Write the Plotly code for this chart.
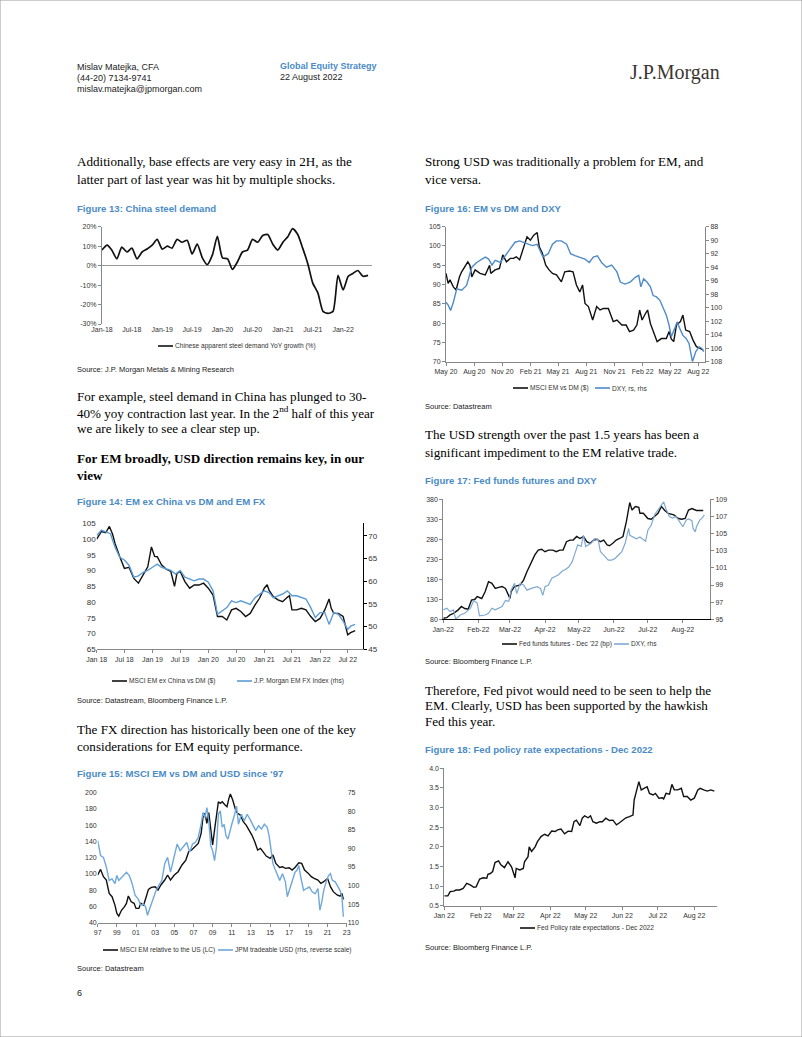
import plotly.graph_objects as go
import pandas as pd

W, H = 802, 1037
SANS = "Liberation Sans, Arial"
SERIF = "Liberation Serif, Times New Roman, serif"
TITLE_BLUE = "#4a8bc6"

# ---------------- data ----------------
# Figure 13: Chinese apparent steel demand YoY growth (%), monthly Jan-18 .. Jun-22
steel_dates = pd.date_range("2018-01-01", periods=54, freq="MS")
steel_yoy = [8, 10.5, 8, 3.5, 9.5, 7, 9, 3.5, 7, 8.5, 10.5, 13.5,
             8.5, 10, 9, 13.5, 12, 13, 6, 11, 4, 0.5, 5.5, 15,
             4, 3.5, -2, 2, 7, 8, 13.5, 12, 15.5, 16, 11, 8,
             12, 15, 19, 16, 9, 1, -9, -14, -23.5, -24.5, -23.5, -5,
             -12.5, -5.5, -4, -2.5, -5.5, -5]
steel_ticks = ["2018-01-01", "2018-07-01", "2019-01-01", "2019-07-01", "2020-01-01",
               "2020-07-01", "2021-01-01", "2021-07-01", "2022-01-01"]
steel_ticktext = ["Jan-18", "Jul-18", "Jan-19", "Jul-19", "Jan-20", "Jul-20", "Jan-21", "Jul-21", "Jan-22"]

# Figure 14: MSCI EM ex China vs DM ($) and J.P. Morgan EM FX Index (rhs)
emxc_dates = ["2018-01-01", "2018-02-01", "2018-03-01", "2018-03-25", "2018-04-15", "2018-05-01",
              "2018-06-01", "2018-07-01", "2018-08-01", "2018-09-01", "2018-10-01", "2018-11-01",
              "2018-12-01", "2018-12-25", "2019-01-15", "2019-02-01", "2019-03-01", "2019-04-01",
              "2019-05-01", "2019-05-25", "2019-06-10", "2019-07-01", "2019-08-01", "2019-09-01",
              "2019-10-01", "2019-11-01", "2019-12-01", "2020-01-01", "2020-02-01", "2020-03-01",
              "2020-04-01", "2020-05-01", "2020-06-01", "2020-07-01", "2020-08-01", "2020-09-01",
              "2020-10-01", "2020-11-01", "2020-12-01", "2021-01-01", "2021-01-20", "2021-02-01",
              "2021-03-01", "2021-04-01", "2021-05-01", "2021-06-01", "2021-06-15", "2021-07-01",
              "2021-08-01", "2021-09-01", "2021-10-01", "2021-11-01", "2021-12-01", "2022-01-01",
              "2022-02-01", "2022-03-01", "2022-03-15", "2022-04-01", "2022-05-01", "2022-06-01",
              "2022-06-20", "2022-07-01", "2022-07-20", "2022-08-19"]
emxc_vs_dm = [100, 102.4, 102, 104, 101.5, 98.6,
              94.4, 90.7, 91, 87.5, 86, 88.6,
              91.2, 97.5, 94.5, 94.4, 91.8, 90.4,
              89.7, 85, 89.1, 89.7, 86.5, 84.4,
              85.4, 85.4, 86, 84.4, 82.2, 75.4,
              75.4, 74.3, 77.5, 78, 77, 75.4,
              76.4, 79, 81.2, 84.4, 85.5, 83.8,
              81.7, 80.7, 80.1, 81.5, 82, 77.5,
              77.5, 78, 77.5, 75.4, 73.8, 74.8,
              77.5, 81, 78, 76.4, 76.4, 75.4,
              72, 69.6, 70.3, 70.9]
emfx_dates = [d.strftime("%Y-%m-%d") for d in pd.date_range("2018-01-01", periods=54, freq="MS")] + \
             ["2022-07-01", "2022-07-20", "2022-08-19"]
emfx = [70.1, 71.3, 70.9, 70.5, 67.5, 65.3, 64.7, 63.5, 60.9, 61.2, 62, 62.4,
        63.1, 63.8, 63.1, 62.7, 62.4, 61.6, 62.4, 60.9, 60.5, 60.1, 60.5, 60.5,
        59.8, 57.9, 52.7, 53.5, 54.2, 55.7, 55.3, 55.7, 55.3, 54.9, 56.4, 57.2,
        57.9, 57.5, 56.4, 56.8, 57.2, 57.9, 56.8, 56.8, 56.4, 56.1, 54.2, 52,
        53.1, 53.1, 50.5, 53.1, 52.7, 51.2,
        49.4, 50.1, 50.5]
f14_ticks = ["2018-01-01", "2018-07-01", "2019-01-01", "2019-07-01", "2020-01-01",
             "2020-07-01", "2021-01-01", "2021-07-01", "2022-01-01", "2022-07-01"]
f14_ticktext = ["Jan 18", "Jul 18", "Jan 19", "Jul 19", "Jan 20", "Jul 20", "Jan 21", "Jul 21", "Jan 22", "Jul 22"]

# Figure 15: MSCI EM relative to the US (LC) and JPM tradeable USD (rhs, reverse scale)
msci_rel_years = [1997.0, 1997.3, 1997.6, 1997.9, 1998.2, 1998.5, 1998.8, 1999.0, 1999.2, 1999.5,
                  1999.8, 2000.0, 2000.2, 2000.5, 2000.8, 2001.0, 2001.3, 2001.5, 2001.8, 2002.0,
                  2002.3, 2002.6, 2003.0, 2003.3, 2003.6, 2004.0, 2004.3, 2004.6, 2005.0, 2005.4,
                  2005.8, 2006.2, 2006.5, 2006.8, 2007.2, 2007.5, 2007.8, 2008.0, 2008.2, 2008.4,
                  2008.6, 2008.8, 2009.0, 2009.2, 2009.4, 2009.6, 2009.8, 2010.0, 2010.3, 2010.5,
                  2010.7, 2010.85, 2011.1, 2011.4, 2011.6, 2011.9, 2012.2, 2012.5, 2012.8, 2013.1,
                  2013.4, 2013.7, 2014.0, 2014.3, 2014.6, 2015.0, 2015.3, 2015.6, 2016.0, 2016.3,
                  2016.6, 2017.0, 2017.3, 2017.6, 2018.0, 2018.3, 2018.6, 2019.0, 2019.3, 2019.6,
                  2020.0, 2020.3, 2020.6, 2021.0, 2021.3, 2021.6, 2022.0, 2022.3, 2022.5, 2022.65]
msci_rel = [98.7, 105.6, 96.6, 92.5, 76, 72, 61.7, 51.5, 48.2, 55.6,
            59.7, 63.8, 72.8, 65.8, 63.8, 57.6, 57.6, 63.8, 61.7, 70,
            81, 83.5, 84.3, 80.2, 86.4, 92.5, 98.7, 92.5, 98.7, 102.8,
            111, 117.1, 127.4, 129.4, 133.5, 137.6, 150, 170.5, 174.6, 162.3,
            175.4, 154, 135.6, 154, 170.5, 188.9, 186.9, 188.9, 184.8, 182.8,
            193, 198.4, 191, 178.7, 174.6, 172.5, 164.3, 160.2, 154, 147.9,
            139.7, 129.4, 131.5, 127.4, 122, 119.2, 123.3, 113, 108, 108.9,
            106.9, 107.7, 104.8, 108, 113.8, 113, 104.8, 100.7, 96.6, 94.6,
            92.5, 88.4, 90.5, 94.6, 84.3, 78.2, 74.1, 72.8, 76, 68.7]
usd_years = [1997.0, 1997.3, 1997.6, 1997.9, 1998.2, 1998.5, 1998.8, 1999.0, 1999.2, 1999.5,
             1999.8, 2000.0, 2000.3, 2000.6, 2000.9, 2001.2, 2001.5, 2001.8, 2002.0, 2002.2,
             2002.5, 2002.8, 2003.1, 2003.4, 2003.7, 2004.0, 2004.3, 2004.6, 2005.0, 2005.3,
             2005.6, 2006.0, 2006.3, 2006.6, 2006.9, 2007.2, 2007.5, 2007.8, 2008.0, 2008.2,
             2008.4, 2008.6, 2008.8, 2009.0, 2009.2, 2009.4, 2009.6, 2009.8, 2010.0, 2010.2,
             2010.4, 2010.6, 2010.8, 2011.0, 2011.3, 2011.5, 2011.7, 2012.0, 2012.3, 2012.6,
             2012.9, 2013.2, 2013.5, 2013.8, 2014.1, 2014.4, 2014.7, 2014.9, 2015.1, 2015.3,
             2015.5, 2015.8, 2016.0, 2016.3, 2016.6, 2016.8, 2017.0, 2017.3, 2017.6, 2017.8,
             2018.0, 2018.2, 2018.5, 2018.8, 2019.1, 2019.4, 2019.7, 2020.0, 2020.2, 2020.4,
             2020.6, 2020.9, 2021.1, 2021.3, 2021.5, 2021.8, 2022.0, 2022.3, 2022.5, 2022.65]
usd_trade = [87.9, 91.9, 92.4, 95, 98.6, 98.2, 99.5, 97.3, 98.6, 97.7,
             96.8, 96.4, 97.3, 99.5, 102.6, 103.5, 105.3, 105, 105.7, 108,
             105.7, 103.5, 101.3, 99.9, 98.6, 94.1, 92.4, 96.4, 92.4, 88.8,
             90.6, 89.2, 88.4, 91, 88.8, 88.4, 87, 83.5, 80.3, 81.7,
             79, 82.6, 89.2, 90.6, 93.3, 89.7, 80.8, 79.9, 84.3, 83.5,
             86.6, 87.5, 85.2, 83.5, 80.8, 78.6, 83.5, 80.8, 82.6, 80.8,
             82.1, 83.5, 85.2, 83.9, 84.8, 83.5, 84.3, 86.6, 91, 94.1,
             95.5, 97.3, 98.6, 96.8, 99, 103, 101.3, 99, 96.4, 95.9,
             94.6, 97.7, 101.3, 100.8, 100.4, 101.7, 102.2, 100.8, 106.6, 104.4,
             101.3, 98.6, 97.3, 96.8, 98.6, 99, 99.9, 101.3, 103, 108.4]
f15_ticks = list(range(1997, 2024, 2))
f15_ticktext = ["97", "99", "01", "03", "05", "07", "09", "11", "13", "15", "17", "19", "21", "23"]

# Figure 16: MSCI EM vs DM ($) and DXY (rs, rhs)
emdm_dates = ["2020-05-01", "2020-05-08", "2020-05-14", "2020-05-25", "2020-06-03", "2020-06-14",
              "2020-06-21", "2020-07-02", "2020-07-11", "2020-07-18", "2020-07-24", "2020-08-04",
              "2020-08-20", "2020-09-06", "2020-09-20", "2020-09-24", "2020-10-08", "2020-10-22",
              "2020-11-02", "2020-11-14", "2020-11-27", "2020-12-07", "2020-12-16", "2020-12-27",
              "2021-01-09", "2021-01-20", "2021-01-31", "2021-02-11", "2021-02-22", "2021-03-01",
              "2021-03-11", "2021-03-22", "2021-04-02", "2021-04-13", "2021-04-26", "2021-05-12",
              "2021-05-23", "2021-06-07", "2021-06-19", "2021-06-30", "2021-07-11", "2021-07-20",
              "2021-07-28", "2021-08-08", "2021-08-22", "2021-09-04", "2021-09-15", "2021-09-26",
              "2021-10-12", "2021-10-28", "2021-11-09", "2021-11-25", "2021-12-09", "2021-12-20",
              "2022-01-02", "2022-01-13", "2022-01-22", "2022-01-30", "2022-02-10", "2022-02-17",
              "2022-02-26", "2022-03-07", "2022-03-20", "2022-04-03", "2022-04-19", "2022-04-28",
              "2022-05-05", "2022-05-13", "2022-05-22", "2022-06-04", "2022-06-12", "2022-06-21",
              "2022-07-04", "2022-07-15", "2022-07-26", "2022-08-06", "2022-08-17"]
emdm = [92.9, 90.3, 91.2, 89.4, 88.6, 92,
        93.3, 94.6, 95.9, 95, 92, 93.8,
        92.9, 92.5, 95, 92.9, 93.8, 94.2,
        97.7, 95.9, 96.8, 96.8, 97.2, 96.4,
        99.8, 102.4, 101.5, 102.8, 103.5, 99.8,
        98.1, 95, 93.8, 92.9, 92.5, 90.7,
        93.3, 93.5, 93.3, 89.9, 88.1, 89.9,
        85.1, 84.3, 80.8, 84.3, 83.4, 83.8,
        83.8, 80.4, 80.8, 79.5, 79.5, 77.8,
        78.2, 79.5, 83.4, 80.8, 82.5, 83.4,
        79.9, 77.8, 75.2, 76, 76, 77.8,
        75.9, 75.2, 79.5, 80.4, 82.1, 78.2,
        77.8, 75.6, 73.9, 73.5, 73]
dxy16_dates = ["2020-05-01", "2020-05-08", "2020-05-16", "2020-05-25", "2020-06-05", "2020-06-21",
               "2020-07-07", "2020-07-24", "2020-08-09", "2020-08-26", "2020-09-06", "2020-09-17",
               "2020-09-28", "2020-10-08", "2020-10-25", "2020-11-10", "2020-11-27", "2020-12-12",
               "2020-12-27", "2021-01-09", "2021-01-23", "2021-02-06", "2021-02-22", "2021-03-03",
               "2021-03-13", "2021-03-30", "2021-04-13", "2021-04-26", "2021-05-12", "2021-05-29",
               "2021-06-11", "2021-06-25", "2021-07-11", "2021-07-28", "2021-08-11", "2021-08-24",
               "2021-09-06", "2021-09-20", "2021-10-06", "2021-10-23", "2021-11-09", "2021-11-20",
               "2021-12-05", "2021-12-22", "2022-01-08", "2022-01-19", "2022-01-26", "2022-02-04",
               "2022-02-15", "2022-02-26", "2022-03-07", "2022-03-18", "2022-03-29", "2022-04-08",
               "2022-04-19", "2022-04-28", "2022-05-05", "2022-05-16", "2022-05-24", "2022-06-02",
               "2022-06-12", "2022-06-23", "2022-07-02", "2022-07-13", "2022-07-24", "2022-08-04",
               "2022-08-12", "2022-08-19"]
dxy16 = [99.2, 99.6, 100.4, 99.2, 97.2, 97.4,
         96.7, 94, 93.3, 92.8, 92.5, 92.8,
         93.7, 93, 93.3, 92.3, 91.3, 90.3,
         90.1, 90.3, 90.6, 90.8, 90.6, 91.5,
         92.5, 92, 90.6, 90.1, 90.1, 90.6,
         92, 92.3, 92.5, 92.8, 93.3, 92.5,
         92.3, 93.3, 94, 93.7, 94.7, 96.2,
         96.5, 96.2, 95.5, 95.2, 96.9, 95.7,
         96.2, 96.9, 98.2, 98.4, 98.9, 99.9,
         101.1, 102.6, 104.3, 103.1, 102.1, 103.1,
         104.1, 104.6, 105.3, 108, 106.5, 105.8,
         106, 106.5]
f16_ticks = ["2020-05-01", "2020-08-01", "2020-11-01", "2021-02-01", "2021-05-01",
             "2021-08-01", "2021-11-01", "2022-02-01", "2022-05-01", "2022-08-01"]
f16_ticktext = ["May 20", "Aug 20", "Nov 20", "Feb 21", "May 21", "Aug 21", "Nov 21", "Feb 22", "May 22", "Aug 22"]

# Figure 17: Fed funds futures - Dec '22 (bp) and DXY (rhs)
ff_dates = ["2022-01-01", "2022-01-04", "2022-01-07", "2022-01-10", "2022-01-14", "2022-01-17",
            "2022-01-20", "2022-01-23", "2022-01-26", "2022-01-29", "2022-01-31", "2022-02-04",
            "2022-02-07", "2022-02-10", "2022-02-13", "2022-02-16", "2022-02-19", "2022-02-22",
            "2022-02-25", "2022-02-27", "2022-03-01", "2022-03-02", "2022-03-05", "2022-03-10",
            "2022-03-13", "2022-03-16", "2022-03-20", "2022-03-23", "2022-03-26", "2022-03-29",
            "2022-04-01", "2022-04-04", "2022-04-08", "2022-04-11", "2022-04-14", "2022-04-17",
            "2022-04-20", "2022-04-23", "2022-04-26", "2022-04-29", "2022-05-02", "2022-05-05",
            "2022-05-08", "2022-05-11", "2022-05-14", "2022-05-17", "2022-05-20", "2022-05-23",
            "2022-05-26", "2022-05-28", "2022-05-31", "2022-06-03", "2022-06-06", "2022-06-09",
            "2022-06-12", "2022-06-15", "2022-06-17", "2022-06-20", "2022-06-23", "2022-06-24",
            "2022-06-27", "2022-07-01", "2022-07-04", "2022-07-07", "2022-07-10", "2022-07-13",
            "2022-07-16", "2022-07-19", "2022-07-24", "2022-07-28", "2022-07-31", "2022-08-03",
            "2022-08-06", "2022-08-09", "2022-08-13", "2022-08-16", "2022-08-19"]
ff_dec22 = [82.5, 84, 91, 95, 103, 112,
            107, 105, 128, 130, 137, 132,
            149, 174, 170, 157, 160, 162,
            157, 145, 132, 149, 162, 166,
            178, 199, 224, 241, 253, 255,
            249, 253, 253, 249, 253, 253,
            274, 278, 278, 287, 282, 287,
            274, 270, 278, 280, 274, 278,
            266, 264, 270, 278, 282, 287,
            324, 372, 353, 362, 360, 345,
            345, 332, 330, 338, 345, 362,
            352, 345, 341, 332, 330, 332,
            353, 357, 352, 352, 352]
dxy17_dates = ["2022-01-01", "2022-01-04", "2022-01-07", "2022-01-10", "2022-01-12", "2022-01-16",
               "2022-01-20", "2022-01-25", "2022-01-28", "2022-01-31", "2022-02-02", "2022-02-07",
               "2022-02-10", "2022-02-13", "2022-02-16", "2022-02-19", "2022-02-22", "2022-02-25",
               "2022-02-28", "2022-03-02", "2022-03-05", "2022-03-07", "2022-03-10", "2022-03-13",
               "2022-03-16", "2022-03-20", "2022-03-25", "2022-03-28", "2022-03-30", "2022-04-01",
               "2022-04-04", "2022-04-07", "2022-04-10", "2022-04-13", "2022-04-16", "2022-04-19",
               "2022-04-22", "2022-04-25", "2022-04-28", "2022-04-30", "2022-05-03", "2022-05-05",
               "2022-05-07", "2022-05-09", "2022-05-12", "2022-05-15", "2022-05-18", "2022-05-20",
               "2022-05-23", "2022-05-27", "2022-05-30", "2022-06-02", "2022-06-05", "2022-06-08",
               "2022-06-11", "2022-06-14", "2022-06-15", "2022-06-18", "2022-06-21", "2022-06-24",
               "2022-06-27", "2022-06-29", "2022-07-01", "2022-07-04", "2022-07-07", "2022-07-10",
               "2022-07-13", "2022-07-15", "2022-07-17", "2022-07-20", "2022-07-23", "2022-07-26",
               "2022-07-29", "2022-08-01", "2022-08-04", "2022-08-06", "2022-08-09", "2022-08-10",
               "2022-08-12", "2022-08-13", "2022-08-16", "2022-08-18", "2022-08-20"]
dxy17 = [96.1, 96.3, 95.9, 96.1, 95, 95.5,
         95.7, 96.3, 97.2, 96.9, 95.4, 95.5,
         95.7, 96.3, 96.1, 96.3, 96.5, 97.2,
         97.1, 98.4, 99.2, 98, 99.2, 99,
         98.4, 98.6, 98.8, 98.6, 97.8, 98.8,
         99, 99.8, 100, 100.2, 100.6, 100.8,
         101.1, 101.7, 102.9, 103.7, 103.5, 104.8,
         103.5, 103.7, 103.9, 104.4, 104.3, 102.9,
         102.5, 101.9, 101.9, 102.1, 102.5, 102.9,
         103.9, 105.6, 104.8, 104.6, 104.4, 104.6,
         104.3, 104.1, 105.4, 106, 107.2, 107.8,
         108.3, 108.7, 107.9, 107, 106.8, 107,
         106.4, 105.8, 106.6, 106.7, 106.5, 105.6,
         105.2, 105.8, 106.6, 106.8, 107.2]
f17_ticks = ["2022-01-01", "2022-02-01", "2022-03-01", "2022-04-01", "2022-05-01",
             "2022-06-01", "2022-07-01", "2022-08-01"]
f17_ticktext = ["Jan-22", "Feb-22", "Mar-22", "Apr-22", "May-22", "Jun-22", "Jul-22", "Aug-22"]

# Figure 18: Fed policy rate expectations - Dec 2022
fedexp_dates = ["2022-01-01", "2022-01-04", "2022-01-06", "2022-01-09", "2022-01-11", "2022-01-14",
                "2022-01-17", "2022-01-20", "2022-01-23", "2022-01-26", "2022-01-28", "2022-01-31",
                "2022-02-03", "2022-02-06", "2022-02-07", "2022-02-09", "2022-02-11", "2022-02-13",
                "2022-02-16", "2022-02-18", "2022-02-21", "2022-02-24", "2022-02-27", "2022-02-28",
                "2022-03-02", "2022-03-03", "2022-03-06", "2022-03-09", "2022-03-10", "2022-03-13",
                "2022-03-14", "2022-03-16", "2022-03-19", "2022-03-21", "2022-03-24", "2022-03-27",
                "2022-03-30", "2022-04-02", "2022-04-05", "2022-04-07", "2022-04-10", "2022-04-13",
                "2022-04-16", "2022-04-19", "2022-04-21", "2022-04-23", "2022-04-26", "2022-04-28",
                "2022-04-30", "2022-05-03", "2022-05-05", "2022-05-07", "2022-05-10", "2022-05-13",
                "2022-05-15", "2022-05-18", "2022-05-21", "2022-05-24", "2022-05-27", "2022-05-29",
                "2022-06-01", "2022-06-04", "2022-06-07", "2022-06-10", "2022-06-11", "2022-06-13",
                "2022-06-15", "2022-06-17", "2022-06-20", "2022-06-22", "2022-06-24", "2022-06-27",
                "2022-06-29", "2022-07-02", "2022-07-05", "2022-07-06", "2022-07-08", "2022-07-11",
                "2022-07-13", "2022-07-15", "2022-07-18", "2022-07-21", "2022-07-23", "2022-07-26",
                "2022-07-29", "2022-08-01", "2022-08-04", "2022-08-06", "2022-08-09", "2022-08-12",
                "2022-08-15", "2022-08-18"]
fedexp = [0.75, 0.75, 0.86, 0.87, 0.9, 0.9,
          0.94, 1.07, 1.03, 0.97, 0.98, 1.18,
          1.21, 1.2, 1.3, 1.32, 1.37, 1.6,
          1.64, 1.54, 1.47, 1.62, 1.49, 1.41,
          1.21, 1.45, 1.41, 1.45, 1.62, 1.75,
          2.0, 1.88, 2.0, 2.13, 2.26, 2.32,
          2.28, 2.4, 2.39, 2.43, 2.45, 2.33,
          2.4, 2.39, 2.64, 2.68, 2.54, 2.73,
          2.79, 2.74, 2.79, 2.64, 2.6, 2.64,
          2.64, 2.73, 2.67, 2.68, 2.56, 2.6,
          2.68, 2.74, 2.77, 2.81, 3.19, 3.41,
          3.66, 3.45, 3.49, 3.53, 3.36, 3.32,
          3.36, 3.24, 3.25, 3.22, 3.36, 3.34,
          3.59, 3.45, 3.45, 3.49, 3.28, 3.28,
          3.19, 3.24, 3.45, 3.49, 3.45, 3.42,
          3.45, 3.42]
f18_ticks = f17_ticks
f18_ticktext = ["Jan 22", "Feb 22", "Mar 22", "Apr 22", "May 22", "Jun 22", "Jul 22", "Aug 22"]

# ---------------- helpers ----------------
def xd(x0, x1):
    return [x0 / W, x1 / W]

def yd(top, bottom):
    return [1 - bottom / H, 1 - top / H]

TICKFONT = dict(family=SANS, size=7, color="#333333")

def axis(**kw):
    base = dict(showgrid=False, zeroline=False, tickfont=TICKFONT, ticks="outside",
                ticklen=3, tickwidth=1, tickcolor="#888888", showline=True,
                linecolor="#888888", linewidth=1, fixedrange=True, tickangle=0,
                automargin=False)
    base.update(kw)
    return base

annotations = []
shapes = []

def text(x, y, s, size=13.1, family=SERIF, color="#000000", anchor="left"):
    annotations.append(dict(x=x / W, y=1 - y / H, xref="paper", yref="paper", text=s,
                            showarrow=False, xanchor=anchor, yanchor="middle", borderpad=0,
                            font=dict(family=family, size=size, color=color)))

def legend_item(x0, y, color, label, width=1.6, length=15):
    shapes.append(dict(type="line", xref="paper", yref="paper", x0=x0 / W, x1=(x0 + length) / W,
                       y0=1 - y / H, y1=1 - y / H, line=dict(color=color, width=width)))
    text(x0 + length + 1, y, label, size=6.6, family=SANS, color="#333333")

fig = go.Figure()

BLACK = "#111111"
# Fig 13
fig.add_trace(go.Scatter(x=steel_dates, y=steel_yoy, mode="lines",
                         line=dict(color=BLACK, width=1.7, shape="spline", smoothing=0.6),
                         xaxis="x", yaxis="y", showlegend=False))
# Fig 14
fig.add_trace(go.Scatter(x=emxc_dates, y=emxc_vs_dm, mode="lines", line=dict(color=BLACK, width=1.4),
                         xaxis="x2", yaxis="y2", showlegend=False))
fig.add_trace(go.Scatter(x=emfx_dates, y=emfx, mode="lines", line=dict(color="#5b9bd5", width=1.4),
                         xaxis="x2", yaxis="y3", showlegend=False))
# Fig 15
fig.add_trace(go.Scatter(x=msci_rel_years, y=msci_rel, mode="lines", line=dict(color=BLACK, width=1.4),
                         xaxis="x3", yaxis="y4", showlegend=False))
fig.add_trace(go.Scatter(x=usd_years, y=usd_trade, mode="lines", line=dict(color="#6fa8dc", width=1.4),
                         xaxis="x3", yaxis="y5", showlegend=False))
# Fig 16
fig.add_trace(go.Scatter(x=emdm_dates, y=emdm, mode="lines", line=dict(color=BLACK, width=1.4),
                         xaxis="x4", yaxis="y6", showlegend=False))
fig.add_trace(go.Scatter(x=dxy16_dates, y=dxy16, mode="lines", line=dict(color="#4f8bc9", width=1.4),
                         xaxis="x4", yaxis="y7", showlegend=False))
# Fig 17
fig.add_trace(go.Scatter(x=ff_dates, y=ff_dec22, mode="lines", line=dict(color=BLACK, width=1.4),
                         xaxis="x5", yaxis="y8", showlegend=False))
fig.add_trace(go.Scatter(x=dxy17_dates, y=dxy17, mode="lines", line=dict(color="#7fa9d1", width=1.2),
                         xaxis="x5", yaxis="y9", showlegend=False))
# Fig 18
fig.add_trace(go.Scatter(x=fedexp_dates, y=fedexp, mode="lines", line=dict(color=BLACK, width=1.4),
                         xaxis="x6", yaxis="y10", showlegend=False))

layout = dict(
    width=W, height=H, margin=dict(l=0, r=0, t=0, b=0, pad=0, autoexpand=False),
    paper_bgcolor="white", plot_bgcolor="rgba(0,0,0,0)", showlegend=False,
    # Fig 13
    xaxis=axis(domain=xd(102, 372), anchor="y", type="date", range=["2018-01-01", "2022-06-25"],
               tickvals=steel_ticks, ticktext=steel_ticktext, showline=False, ticks=""),
    yaxis=axis(domain=yd(226.7, 324), anchor="x", range=[-30, 20], tickvals=[-30, -20, -10, 0, 10, 20],
               ticktext=["-30%", "-20%", "-10%", "0%", "10%", "20%"], zeroline=True,
               zerolinecolor="#999999", zerolinewidth=1),
    # Fig 14
    xaxis2=axis(domain=xd(96.7, 362.7), anchor="y2", type="date", range=["2018-01-01", "2022-10-07"],
                tickvals=f14_ticks, ticktext=f14_ticktext),
    yaxis2=axis(domain=yd(523.3, 649.3), anchor="x2", range=[65, 105], dtick=5, showline=False, ticks="",
                tickfont=dict(family=SANS, size=8, color="#333333")),
    yaxis3=axis(overlaying="y2", side="right", anchor="x2", range=[45, 72.8],
                tickvals=[45, 50, 55, 60, 65, 70], linecolor="#000000", tickcolor="#000000",
                tickfont=dict(family=SANS, size=8, color="#333333")),
    # Fig 15
    xaxis3=axis(domain=xd(97.7, 346.7), anchor="y4", range=[1997, 2023], tickvals=f15_ticks,
                ticktext=f15_ticktext),
    yaxis4=axis(domain=yd(792.7, 922.7), anchor="x3", range=[40, 200], dtick=20, showline=False, ticks=""),
    yaxis5=axis(overlaying="y4", side="right", anchor="x3", range=[110, 75],
                tickvals=[75, 80, 85, 90, 95, 100, 105, 110], showline=False, ticks=""),
    # Fig 16
    xaxis4=axis(domain=xd(446, 705), anchor="y6", type="date", range=["2020-05-01", "2022-08-23"],
                tickvals=f16_ticks, ticktext=f16_ticktext),
    yaxis6=axis(domain=yd(226.7, 361.7), anchor="x4", range=[70, 105], dtick=5),
    yaxis7=axis(overlaying="y6", side="right", anchor="x4", range=[108, 88],
                tickvals=list(range(88, 109, 2))),
    # Fig 17
    xaxis5=axis(domain=xd(443.3, 710), anchor="y8", type="date", range=["2022-01-01", "2022-08-25"],
                tickvals=f17_ticks, ticktext=f17_ticktext, linecolor="#000000"),
    yaxis8=axis(domain=yd(499.3, 619.3), anchor="x5", range=[80, 380],
                tickvals=[80, 130, 180, 230, 280, 330, 380]),
    yaxis9=axis(overlaying="y8", side="right", anchor="x5", range=[95, 109],
                tickvals=list(range(95, 110, 2))),
    # Fig 18
    xaxis6=axis(domain=xd(444.3, 716.7), anchor="y10", type="date", range=["2022-01-01", "2022-08-20"],
                tickvals=f18_ticks, ticktext=f18_ticktext),
    yaxis10=axis(domain=yd(768.3, 905.7), anchor="x6", range=[0.5, 4.0], dtick=0.5, tickformat=".1f"),
)

# ---------------- page text ----------------
HDR = dict(family=SANS, size=9, color="#222222")
text(76, 67, "Mislav Matejka, CFA", **HDR)
text(76, 78, "(44-20) 7134-9741", **HDR)
text(76, 89, "mislav.matejka@jpmorgan.com", **HDR)
text(279, 66, "<b>Global Equity Strategy</b>", size=9, family=SANS, color=TITLE_BLUE)
text(279, 77, "22 August 2022", **HDR)
text(721, 72, "J.P.Morgan", size=20, family=SERIF, color="#3d3530", anchor="right")

text(76, 162, "Additionally, base effects are very easy in 2H, as the")
text(76, 179, "latter part of last year was hit by multiple shocks.")
text(424, 162, "Strong USD was traditionally a problem for EM, and")
text(424, 179, "vice versa.")

FIG = dict(size=9.6, family=SANS, color=TITLE_BLUE)
SRC = dict(size=7.5, family=SANS, color="#222222")
text(76, 209, "<b>Figure 13: China steel demand</b>", **FIG)
text(424, 209, "<b>Figure 16: EM vs DM and DXY</b>", **FIG)
text(76, 369, "Source: J.P. Morgan Metals &amp; Mining Research", **SRC)
text(76, 396.5, "For example, steel demand in China has plunged to 30-")
text(76, 412.3, "40% yoy contraction last year. In the 2<sup>nd</sup> half of this year")
text(76, 428, "we are likely to see a clear step up.")
text(76, 458, "<b>For EM broadly, USD direction remains key, in our</b>")
text(76, 475, "<b>view</b>")
text(76, 501.7, "<b>Figure 14: EM ex China vs DM and EM FX</b>", **FIG)
text(76, 700.7, "Source: Datastream, Bloomberg Finance L.P.", **SRC)
text(76, 729, "The FX direction has historically been one of the key")
text(76, 746, "considerations for EM equity performance.")
text(76, 773, "<b>Figure 15: MSCI EM vs DM and USD since \u201897</b>", **FIG)
text(76, 968, "Source: Datastream", **SRC)
text(76, 993, "6", size=9, family=SANS, color="#222222")

text(424, 407, "Source: Datastream", **SRC)
text(424, 435, "The USD strength over the past 1.5 years has been a")
text(424, 452, "significant impediment to the EM relative trade.")
text(424, 480, "<b>Figure 17: Fed funds futures and DXY</b>", **FIG)
text(424, 661.7, "Source: Bloomberg Finance L.P.", **SRC)
text(424, 690, "Therefore, Fed pivot would need to be seen to help the")
text(424, 705.7, "EM. Clearly, USD has been supported by the hawkish")
text(424, 721, "Fed this year.")
text(424, 749, "<b>Figure 18: Fed policy rate expectations - Dec 2022</b>", **FIG)
text(424, 947, "Source: Bloomberg Finance L.P.", **SRC)

# legends
legend_item(158, 346, BLACK, "Chinese apparent steel demand YoY growth (%)")
legend_item(112, 681, BLACK, "MSCI EM ex China vs DM ($)")
legend_item(237, 681, "#5b9bd5", "J.P. Morgan EM FX Index (rhs)")
legend_item(103, 950, BLACK, "MSCI EM relative to the US (LC)")
legend_item(218, 950, "#6fa8dc", "JPM tradeable USD (rhs, reverse scale)")
legend_item(513, 388, BLACK, "MSCI EM vs DM ($)")
legend_item(595, 388, "#4f8bc9", "DXY, rs, rhs")
legend_item(502, 644, BLACK, "Fed funds futures - Dec '22 (bp)")
legend_item(614, 644, "#7fa9d1", "DXY, rhs")
legend_item(520, 928, BLACK, "Fed Policy rate expectations - Dec 2022")

# page border
shapes.append(dict(type="rect", xref="paper", yref="paper", x0=0, x1=1, y0=0, y1=1,
                   line=dict(color="#9a9a9a", width=1)))

layout["annotations"] = annotations
layout["shapes"] = shapes
fig.update_layout(**layout)
fig.write_html("out.html")
